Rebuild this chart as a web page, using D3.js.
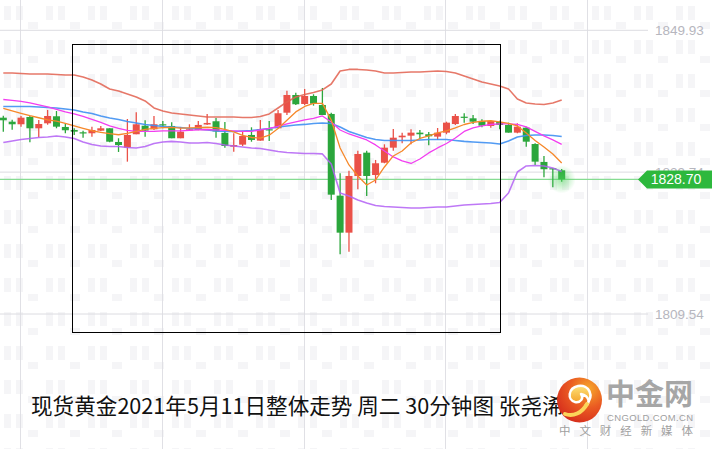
<!DOCTYPE html>
<html>
<head>
<meta charset="utf-8">
<script src="https://cdn.jsdelivr.net/npm/d3@7"></script>
<style>
	body { margin: 0; background: #fff; }
	svg { display: block; }
</style>
</head>
<body>
<svg id="chart" width="712" height="449"></svg>
<script>

// 30 minute candles, oldest first
const OPEN = [1837.49, 1836.92, 1836.55, 1837.59, 1835.98, 1836.69, 1837.69, 1836.17, 1835.74, 1835.41,
	1835.27, 1835.64, 1835.98, 1834.03, 1833.22, 1835.13, 1836.35, 1835.84, 1836.55, 1836.31,
	1834.56, 1835.70, 1835.74, 1836.52, 1836.98, 1835.31, 1833.36, 1833.65, 1835.03, 1834.22,
	1835.84, 1835.98, 1838.20, 1840.72, 1839.44, 1840.58, 1839.30, 1838.02, 1826.39, 1821.12,
	1829.19, 1832.51, 1829.33, 1831.08, 1833.22, 1834.70, 1834.93, 1835.36, 1835.13, 1834.79,
	1835.36, 1836.59, 1837.63, 1837.40, 1837.02, 1836.31, 1836.88, 1836.45, 1835.36, 1836.07,
	1833.74, 1831.19, 1830.29, 1830.00];
const HIGH = [1837.77, 1837.21, 1837.73, 1837.77, 1837.16, 1838.59, 1838.44, 1836.69, 1835.98, 1835.64,
	1836.21, 1836.31, 1835.98, 1834.56, 1837.30, 1838.26, 1837.12, 1837.73, 1837.02, 1836.84,
	1836.17, 1836.55, 1837.02, 1838.02, 1837.45, 1836.88, 1835.27, 1835.60, 1836.12, 1837.16,
	1837.02, 1838.59, 1841.33, 1841.05, 1841.58, 1840.82, 1841.72, 1838.20, 1829.57, 1829.94,
	1832.79, 1832.79, 1831.47, 1833.70, 1835.88, 1835.36, 1835.84, 1835.74, 1835.46, 1836.02,
	1836.92, 1838.02, 1838.12, 1837.87, 1837.26, 1837.06, 1837.06, 1836.78, 1836.69, 1836.21,
	1833.84, 1832.04, 1830.29, 1830.19];
const LOW = [1835.50, 1835.78, 1836.21, 1833.99, 1834.70, 1836.49, 1835.98, 1835.27, 1835.03, 1834.64,
	1834.79, 1835.60, 1833.99, 1832.61, 1831.23, 1835.13, 1834.79, 1835.74, 1835.98, 1834.56,
	1834.56, 1835.70, 1835.70, 1836.45, 1834.64, 1833.22, 1832.65, 1833.46, 1834.07, 1834.22,
	1834.17, 1835.98, 1837.87, 1839.30, 1839.30, 1839.20, 1837.87, 1825.77, 1818.04, 1818.41,
	1827.30, 1826.34, 1828.15, 1831.00, 1832.79, 1833.84, 1833.70, 1834.42, 1833.56, 1834.32,
	1835.13, 1836.45, 1836.78, 1836.59, 1836.12, 1836.07, 1835.84, 1835.36, 1835.27, 1833.36,
	1830.76, 1829.01, 1827.58, 1828.36];
const CLOSE = [1837.12, 1836.55, 1837.49, 1835.98, 1836.59, 1837.73, 1836.21, 1835.70, 1835.50, 1835.31,
	1835.74, 1835.98, 1834.07, 1833.60, 1835.03, 1836.55, 1835.64, 1836.55, 1836.45, 1834.56,
	1835.50, 1835.84, 1836.45, 1836.74, 1835.53, 1833.46, 1833.60, 1834.88, 1834.32, 1835.84,
	1835.74, 1838.12, 1840.72, 1839.40, 1840.58, 1839.48, 1837.87, 1826.53, 1821.12, 1829.19,
	1832.32, 1829.19, 1831.00, 1833.22, 1834.64, 1834.93, 1835.36, 1835.13, 1834.84, 1835.36,
	1836.78, 1837.73, 1837.49, 1836.92, 1836.35, 1837.02, 1836.45, 1835.36, 1836.21, 1834.07,
	1831.23, 1830.15, 1830.15, 1828.70];

// indicator lines
const MA_ORANGE = [1838.80, 1838.45, 1838.12, 1837.78, 1837.48, 1837.19, 1836.99, 1836.67, 1836.31, 1835.96,
	1835.63, 1835.41, 1835.21, 1835.06, 1835.26, 1835.53, 1835.81, 1835.97, 1836.07, 1836.10,
	1836.00, 1836.03, 1836.08, 1836.13, 1836.06, 1835.81, 1835.46, 1834.96, 1834.67, 1834.57,
	1834.99, 1835.96, 1837.12, 1838.31, 1839.09, 1839.52, 1839.52, 1837.16, 1833.18, 1830.76,
	1829.19, 1827.91, 1828.62, 1830.47, 1832.04, 1832.75, 1833.89, 1834.53, 1834.89, 1835.32,
	1835.60, 1836.03, 1836.52, 1836.81, 1836.98, 1837.05, 1836.88, 1836.67, 1836.31, 1835.32,
	1834.25, 1833.32, 1832.33, 1831.04];
const MA_MAGENTA = [1840.08, 1839.94, 1839.80, 1839.59, 1839.30, 1839.02, 1838.66, 1838.31, 1838.02, 1837.66,
	1837.24, 1836.81, 1836.31, 1835.96, 1835.67, 1835.53, 1835.53, 1835.53, 1835.60, 1835.60,
	1835.60, 1835.67, 1835.74, 1835.81, 1835.74, 1835.67, 1835.60, 1835.53, 1835.53, 1835.74,
	1835.96, 1836.24, 1836.60, 1836.88, 1837.17, 1837.38, 1837.74, 1836.88, 1835.74, 1835.17,
	1834.75, 1834.32, 1833.61, 1832.75, 1831.90, 1831.33, 1830.97, 1831.61, 1832.47, 1833.18,
	1833.82, 1834.60, 1835.53, 1836.03, 1836.31, 1836.52, 1836.60, 1836.60, 1836.52, 1836.17,
	1835.53, 1834.89, 1834.32, 1833.68];
const BOLL_MID = [1839.09, 1839.09, 1839.09, 1839.09, 1839.02, 1838.94, 1838.87, 1838.73, 1838.59, 1838.31,
	1838.09, 1837.74, 1837.45, 1837.24, 1836.95, 1836.74, 1836.53, 1836.38, 1836.24, 1836.17,
	1836.10, 1835.96, 1835.88, 1835.74, 1835.60, 1835.53, 1835.53, 1835.60, 1835.67, 1835.81,
	1835.96, 1836.17, 1836.31, 1836.45, 1836.53, 1836.67, 1836.74, 1836.67, 1836.17, 1835.53,
	1835.10, 1834.67, 1834.39, 1834.25, 1834.25, 1834.25, 1834.25, 1834.32, 1834.39, 1834.39,
	1834.39, 1834.25, 1834.11, 1834.03, 1833.96, 1833.89, 1833.75, 1834.18, 1834.75, 1834.96,
	1835.03, 1835.03, 1834.96, 1834.82];
const BOLL_UP = [1843.86, 1843.86, 1843.78, 1843.71, 1843.71, 1843.71, 1843.64, 1843.57, 1843.57, 1843.29,
	1842.86, 1842.29, 1841.58, 1841.29, 1840.87, 1840.44, 1839.87, 1838.87, 1838.45, 1838.16,
	1838.02, 1837.88, 1837.74, 1837.59, 1837.59, 1837.59, 1837.59, 1837.52, 1837.52, 1837.66,
	1838.02, 1838.87, 1839.73, 1840.44, 1840.80, 1841.08, 1841.44, 1842.29, 1844.14, 1844.36,
	1844.36, 1844.28, 1844.14, 1843.86, 1843.86, 1843.93, 1844.00, 1844.00, 1844.07, 1844.14,
	1844.07, 1843.86, 1843.43, 1843.00, 1842.58, 1842.29, 1842.01, 1841.58, 1840.16, 1839.59,
	1839.44, 1839.37, 1839.59, 1840.01];
const BOLL_DN = [1833.96, 1834.18, 1834.39, 1834.53, 1834.67, 1834.75, 1834.89, 1834.75, 1834.53, 1834.03,
	1833.68, 1833.46, 1833.39, 1833.39, 1833.25, 1833.18, 1833.39, 1833.82, 1834.03, 1834.11,
	1834.03, 1833.89, 1833.89, 1833.96, 1833.82, 1833.61, 1833.46, 1833.32, 1833.18, 1833.11,
	1832.89, 1832.68, 1832.54, 1832.47, 1832.40, 1832.40, 1832.33, 1830.90, 1826.77, 1826.35,
	1825.78, 1825.35, 1824.99, 1824.85, 1824.78, 1824.71, 1824.64, 1824.64, 1824.71, 1824.78,
	1824.78, 1824.92, 1825.06, 1825.14, 1825.21, 1825.28, 1825.42, 1826.77, 1829.76, 1830.62,
	1830.69, 1830.62, 1830.33, 1829.83];

const Y_TICKS = ['1849.93', '1829.74', '1809.54'];
const TIME_GRID = [2, 18, 34, 50, 66];   // candle index of each vertical grid line
const LAST_PRICE = 1828.70;
const TITLE = '现货黄金2021年5月11日整体走势 周二 30分钟图 张尧浠';

const W = 712, H = 449;
const UP = '#ea5148', DOWN = '#2ba63c';

const svg = d3.select('#chart');
const x = d3.scaleLinear().domain([0, OPEN.length - 1]).range([3.3, 561.7]);
const y = d3.scaleLinear().domain([+Y_TICKS[2], +Y_TICKS[0]]).range([314, 30.3]);

const defs = svg.append('defs');
const pat = defs.append('pattern').attr('id', 'wm').attr('patternUnits', 'userSpaceOnUse')
	.attr('width', 42).attr('height', 34);
pat.append('rect').attr('x', 4).attr('y', 6).attr('width', 7).attr('height', 14).attr('fill', '#f5f5f7');
pat.append('rect').attr('x', 16).attr('y', 6).attr('width', 7).attr('height', 14).attr('fill', '#f5f5f7');
pat.append('rect').attr('x', 28).attr('y', 22).attr('width', 10).attr('height', 7).attr('fill', '#f5f5f7');

const glow = defs.append('radialGradient').attr('id', 'glow');
glow.append('stop').attr('offset', '0%').attr('stop-color', '#4fd45c').attr('stop-opacity', 0.55);
glow.append('stop').attr('offset', '100%').attr('stop-color', '#4fd45c').attr('stop-opacity', 0);

const logoGrad = defs.append('radialGradient').attr('id', 'logoGrad')
	.attr('cx', '70%').attr('cy', '25%').attr('r', '85%');
logoGrad.append('stop').attr('offset', '0%').attr('stop-color', '#f6a62a');
logoGrad.append('stop').attr('offset', '50%').attr('stop-color', '#ea5a22');
logoGrad.append('stop').attr('offset', '100%').attr('stop-color', '#d42a1c');

const swirlGrad = defs.append('linearGradient').attr('id', 'swirlGrad')
	.attr('x1', 0).attr('y1', 0).attr('x2', 0).attr('y2', 1);
swirlGrad.append('stop').attr('offset', '0%').attr('stop-color', '#fde27a');
swirlGrad.append('stop').attr('offset', '100%').attr('stop-color', '#f39a1e');

svg.append('rect').attr('width', W).attr('height', H).attr('fill', '#fff');
svg.append('rect').attr('width', W).attr('height', H).attr('fill', 'url(#wm)');

// grid
svg.append('g').selectAll('line').data(TIME_GRID).enter().append('line')
	.attr('x1', d => Math.round(x(d)) - 0.5).attr('x2', d => Math.round(x(d)) - 0.5)
	.attr('y1', 0).attr('y2', H)
	.attr('stroke', '#e0e0e5').attr('stroke-width', 1);

svg.append('g').selectAll('line').data(Y_TICKS).enter().append('line')
	.attr('x1', 0).attr('x2', 648)
	.attr('y1', d => y(+d)).attr('y2', d => y(+d))
	.attr('stroke', '#dcdce1').attr('stroke-width', 1);

svg.append('g').selectAll('text').data(Y_TICKS).enter().append('text')
	.text(d => d)
	.attr('x', 655).attr('y', d => y(+d) + 5)
	.attr('font-family', 'Liberation Sans, Arial, sans-serif').attr('font-size', 13.5)
	.attr('fill', '#b6b6be');

// current price line
svg.append('line')
	.attr('x1', 0).attr('x2', 640).attr('y1', y(LAST_PRICE)).attr('y2', y(LAST_PRICE))
	.attr('stroke', '#86dc92').attr('stroke-width', 1.2);

// candles
const idx = d3.range(OPEN.length);
const candles = svg.append('g').selectAll('g').data(idx).enter().append('g');
candles.append('line')
	.attr('x1', i => x(i)).attr('x2', i => x(i))
	.attr('y1', i => y(HIGH[i])).attr('y2', i => y(LOW[i]))
	.attr('stroke', i => CLOSE[i] > OPEN[i] ? UP : DOWN).attr('stroke-width', 1.3);
candles.append('rect')
	.attr('x', i => x(i) - 3.5).attr('width', 7)
	.attr('y', i => y(Math.max(OPEN[i], CLOSE[i])))
	.attr('height', i => Math.max(1.2, Math.abs(y(OPEN[i]) - y(CLOSE[i]))))
	.attr('fill', i => CLOSE[i] > OPEN[i] ? UP : DOWN);

// indicator lines
const line = d3.line().x((d, i) => x(i)).y(d => y(d));
const series = [
	[BOLL_UP, '#e2604f', 1.6, 0.85],
	[BOLL_DN, '#b360f5', 1.6, 0.85],
	[BOLL_MID, '#3f90f2', 1.6, 0.9],
	[MA_MAGENTA, '#f23ef0', 1.3, 1],
	[MA_ORANGE, '#f6882a', 1.3, 1]
];
svg.append('g').selectAll('path').data(series).enter().append('path')
	.attr('d', d => line(d[0]))
	.attr('fill', 'none')
	.attr('stroke', d => d[1]).attr('stroke-width', d => d[2]).attr('stroke-opacity', d => d[3])
	.attr('stroke-linejoin', 'round');

svg.append('circle')
	.attr('cx', x(OPEN.length - 1)).attr('cy', y(LAST_PRICE)).attr('r', 14)
	.attr('fill', 'url(#glow)');

// annotation box
svg.append('rect')
	.attr('x', 72.5).attr('y', 44.5).attr('width', 428).attr('height', 288)
	.attr('fill', 'none').attr('stroke', '#000').attr('stroke-width', 1);

// price tag
const ty = y(LAST_PRICE);
svg.append('path')
	.attr('d', `M638,${ty} L647,${ty - 9} L712,${ty - 9} L712,${ty + 9} L647,${ty + 9} Z`)
	.attr('fill', '#2db83d');
svg.append('text')
	.text(d3.format('.2f')(LAST_PRICE))
	.attr('x', 676).attr('y', ty + 5)
	.attr('text-anchor', 'middle')
	.attr('font-family', 'Liberation Sans, Arial, sans-serif').attr('font-size', 14)
	.attr('fill', '#fff');

// title
svg.append('text')
	.text(TITLE)
	.attr('x', 31).attr('y', 414)
	.attr('font-family', 'Noto Sans CJK SC, sans-serif').attr('font-size', 21.6)
	.attr('fill', '#111');

// logo
const logo = svg.append('g');
logo.append('circle').attr('cx', 579.5).attr('cy', 400).attr('r', 22.5).attr('fill', 'url(#logoGrad)');
logo.append('path')
	.attr('d', 'M586,405 C595,396 589,384 578,386 C568,388 567,400 575,402 C581,403 584,398 581,394 C590,396 590,404 586,405 Z')
	.attr('fill', 'url(#swirlGrad)').attr('stroke', '#fff').attr('stroke-width', 2.5).attr('stroke-linejoin', 'round');
logo.append('path')
	.attr('d', 'M587,404 C582,413 573,417 565,414')
	.attr('fill', 'none').attr('stroke', '#fbd55a').attr('stroke-width', 4).attr('stroke-linecap', 'round');
logo.append('text').text('中金网')
	.attr('x', 606).attr('y', 405)
	.attr('font-family', 'Noto Sans CJK SC, sans-serif').attr('font-weight', 'bold').attr('font-size', 29)
	.attr('fill', '#a6a6a6');
logo.append('text').text('CNGOLD.COM.CN')
	.attr('x', 607).attr('y', 421)
	.attr('textLength', 86).attr('lengthAdjust', 'spacing')
	.attr('font-family', 'Liberation Sans, Arial, sans-serif').attr('font-size', 9.5)
	.attr('fill', '#a0a0a0');
logo.append('text').text('中文财经新媒体')
	.attr('x', 559).attr('y', 435)
	.attr('textLength', 134).attr('lengthAdjust', 'spacing')
	.attr('font-family', 'Noto Sans CJK SC, sans-serif').attr('font-size', 11.5)
	.attr('fill', '#a0a0a0');

</script>
</body>
</html>
